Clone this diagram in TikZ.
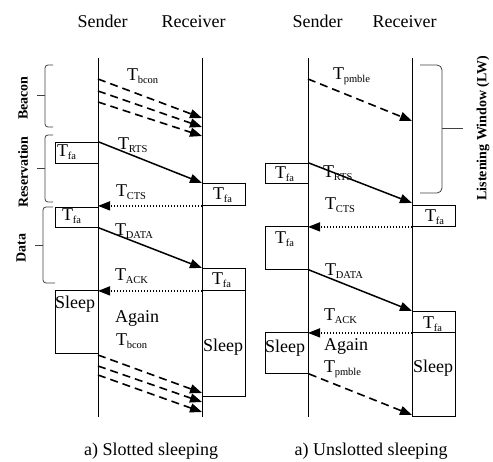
\documentclass[tikz,border=0pt]{standalone}
\usepackage{fontspec}
\setmainfont{Liberation Serif}
\usetikzlibrary{arrows.meta}

% T with a lowered small-size subscript, as in T_RTS
\newcommand\Tsub[1]{T\kern-0.4pt\raisebox{-2.5pt}{\fontsize{10.5}{10.5}\selectfont #1}}

\tikzset{
  life/.style={line width=0.9pt},
  box/.style={draw, line width=0.9pt, anchor=north west, inner sep=0pt, minimum width=43pt},
  txt/.style={font=\fontsize{18}{20}\selectfont, inner sep=0pt, anchor=base west},
  head/.style={font=\fontsize{18}{20}\selectfont, inner sep=0pt, anchor=base},
  tip/.style={-{Triangle[length=12pt,width=9pt]}},
  solidmsg/.style={tip, line width=1.5pt},
  dashmsg/.style={tip, line width=1.6pt, dash pattern=on 8pt off 5pt},
  dotmsg/.style={tip, line width=1.4pt, dash pattern=on 1.3pt off 1.7pt},
  brc/.style={line width=0.8pt, draw=black!75, rounded corners=3pt},
  side/.style={font=\fontsize{14}{14}\selectfont\bfseries, rotate=90, inner sep=0pt},
}

\begin{document}
\begin{tikzpicture}[x=1pt,y=-1pt]
\useasboundingbox (0,0) rectangle (493,462);

% ---------- column headings ----------
\node[head] (hs1) at (102.5,28) {Sender};
\node[head] (hr1) at (193.5,28) {Receiver};
\node[head] (hs2) at (317.5,28) {Sender};
\node[head] (hr2) at (404.5,28) {Receiver};

% ================= slotted sleeping =================
\coordinate (ls1) at (98,58);  \coordinate (ls2) at (98,417);
\coordinate (lr1) at (202,58); \coordinate (lr2) at (202,417);
\draw[life] (ls1) -- (ls2);
\draw[life] (lr1) -- (lr2);

% state boxes
\node[box, minimum height=21pt]  (afa1) at (55,142)  {};
\node[box, minimum height=22pt]  (bfa1) at (202,183) {};
\node[box, minimum height=20pt]  (afa2) at (55,207)  {};
\node[box, minimum height=22pt]  (bfa2) at (202,268) {};
\node[box, minimum height=63pt]  (asl)  at (55,290)  {};
\node[box, minimum height=106pt] (bsl)  at (202,290) {};

\node[txt] (tafa1) at (57,157)  {\Tsub{fa}};
\node[txt] (tbfa1) at (213,200) {\Tsub{fa}};
\node[txt] (tafa2) at (62,221)  {\Tsub{fa}};
\node[txt] (tbfa2) at (212,285) {\Tsub{fa}};
\node[txt] (tasl)  at (55,309)  {Sleep};
\node[txt] (tbsl)  at (203,352) {Sleep};

% beacons
\coordinate (ba1) at (98,79);  \coordinate (bb1) at (202,118);
\coordinate (ba2) at (98,91);  \coordinate (bb2) at (202,127);
\coordinate (ba3) at (98,102); \coordinate (bb3) at (202,136);
\draw[dashmsg] (ba1) -- (bb1);
\draw[dashmsg] (ba2) -- (bb2);
\draw[dashmsg] (ba3) -- (bb3);
\node[txt] (lbcon) at (127,81) {\Tsub{bcon}};

% handshake
\draw[solidmsg] (afa1.north east) -- (bfa1.north west);
\node[txt] (lrts) at (118,150) {\Tsub{RTS}};
\coordinate (cts1) at (bfa1.south west -| ls1);
\draw[dotmsg] (bfa1.south west) -- (cts1);
\node[txt] (lcts) at (116,197) {\Tsub{CTS}};
\draw[solidmsg] (afa2.south east) -- (bfa2.north west);
\node[txt] (ldata) at (115,236) {\Tsub{DATA}};
\coordinate (ack1) at (bfa2.south west -| ls1);
\draw[dotmsg] (bfa2.south west) -- (ack1);
\node[txt] (lack) at (115,281) {\Tsub{ACK}};

% next beacon period
\node[txt] (lagain) at (115,323) {Again};
\node[txt] (lbcon2) at (116,346) {\Tsub{bcon}};
\coordinate (ca1) at (98,355);  \coordinate (cb1) at (202,393);
\coordinate (ca2) at (98,366);  \coordinate (cb2) at (202,402);
\coordinate (ca3) at (98,375);  \coordinate (cb3) at (202,412);
\draw[dashmsg] (ca1) -- (cb1);
\draw[dashmsg] (ca2) -- (cb2);
\draw[dashmsg] (ca3) -- (cb3);

% phase brackets
\draw[brc] (53,65) -- (45,65) -- (45,127) -- (53,127);
\draw[brc] (45,95) -- (37,95);
\node[side] (pbeacon) at (23,98) {Beacon};
\draw[brc] (53,135) -- (45,135) -- (45,202) -- (53,202);
\draw[brc] (45,168) -- (37,168);
\node[side] (pres) at (23,172) {Reservation};
\draw[brc] (53,207) -- (43,207) -- (43,283) -- (55,283);
\draw[brc] (43,245) -- (35,245);
\node[side] (pdata) at (21,248) {Data};

\node[head] (cap1) at (151,455) {a) Slotted sleeping};

% ================= unslotted sleeping =================
\coordinate (us1) at (308,58);  \coordinate (us2) at (308,417);
\coordinate (ur1) at (412,58);  \coordinate (ur2) at (412,417);
\draw[life] (us1) -- (us2);
\draw[life] (ur1) -- (ur2);

\node[box, minimum height=20pt] (cfa1) at (265,163) {};
\node[box, minimum height=21pt] (dfa1) at (412,205) {};
\node[box, minimum height=43pt] (cfa2) at (265,226) {};
\node[box, minimum height=21pt] (dfa2) at (412,311) {};
\node[box, minimum height=41pt] (csl)  at (265,332) {};
\node[box, minimum height=84pt] (dsl)  at (412,332) {};

\node[txt] (tcfa1) at (275,179) {\Tsub{fa}};
\node[txt] (tdfa1) at (425,222) {\Tsub{fa}};
\node[txt] (tcfa2) at (275,244) {\Tsub{fa}};
\node[txt] (tdfa2) at (423,329) {\Tsub{fa}};
\node[txt] (tcsl)  at (265,353) {Sleep};
\node[txt] (tdsl)  at (413,373) {Sleep};

% preamble
\coordinate (pa1) at (308,79); \coordinate (pb1) at (412,121);
\draw[dashmsg] (pa1) -- (pb1);
\node[txt] (lpm) at (333,80) {\Tsub{pmble}};

% handshake
\coordinate (rts2) at (412,203);
\draw[solidmsg] (cfa1.north east) -- (rts2);
\node[txt] (lrts2) at (323,178) {\Tsub{RTS}};
\coordinate (cts2) at (dfa1.south west -| us1);
\draw[dotmsg] (dfa1.south west) -- (cts2);
\node[txt] (lcts2) at (325,210) {\Tsub{CTS}};
\draw[solidmsg] (cfa2.south east) -- (dfa2.north west);
\node[txt] (ldata2) at (325,276) {\Tsub{DATA}};
\coordinate (ack2) at (dfa2.south west -| us1);
\draw[dotmsg] (dfa2.south west) -- (ack2);
\node[txt] (lack2) at (324,321) {\Tsub{ACK}};

% next preamble
\node[txt] (lagain2) at (324,351) {Again};
\node[txt] (lpm2) at (324,373) {\Tsub{pmble}};
\coordinate (qb1) at (412,415);
\draw[dashmsg] (csl.south east) -- (qb1);

% listening window bracket
\draw[brc, rounded corners=5pt] (420,65) -- (442,65) -- (442,193) -- (420,193);
\draw[brc] (442,128) -- (463,128);
\node[side] (plw) at (483,128) {Listening Window (LW)};

\node[head] (cap2) at (371,455) {a) Unslotted sleeping};
\end{tikzpicture}
\end{document}
